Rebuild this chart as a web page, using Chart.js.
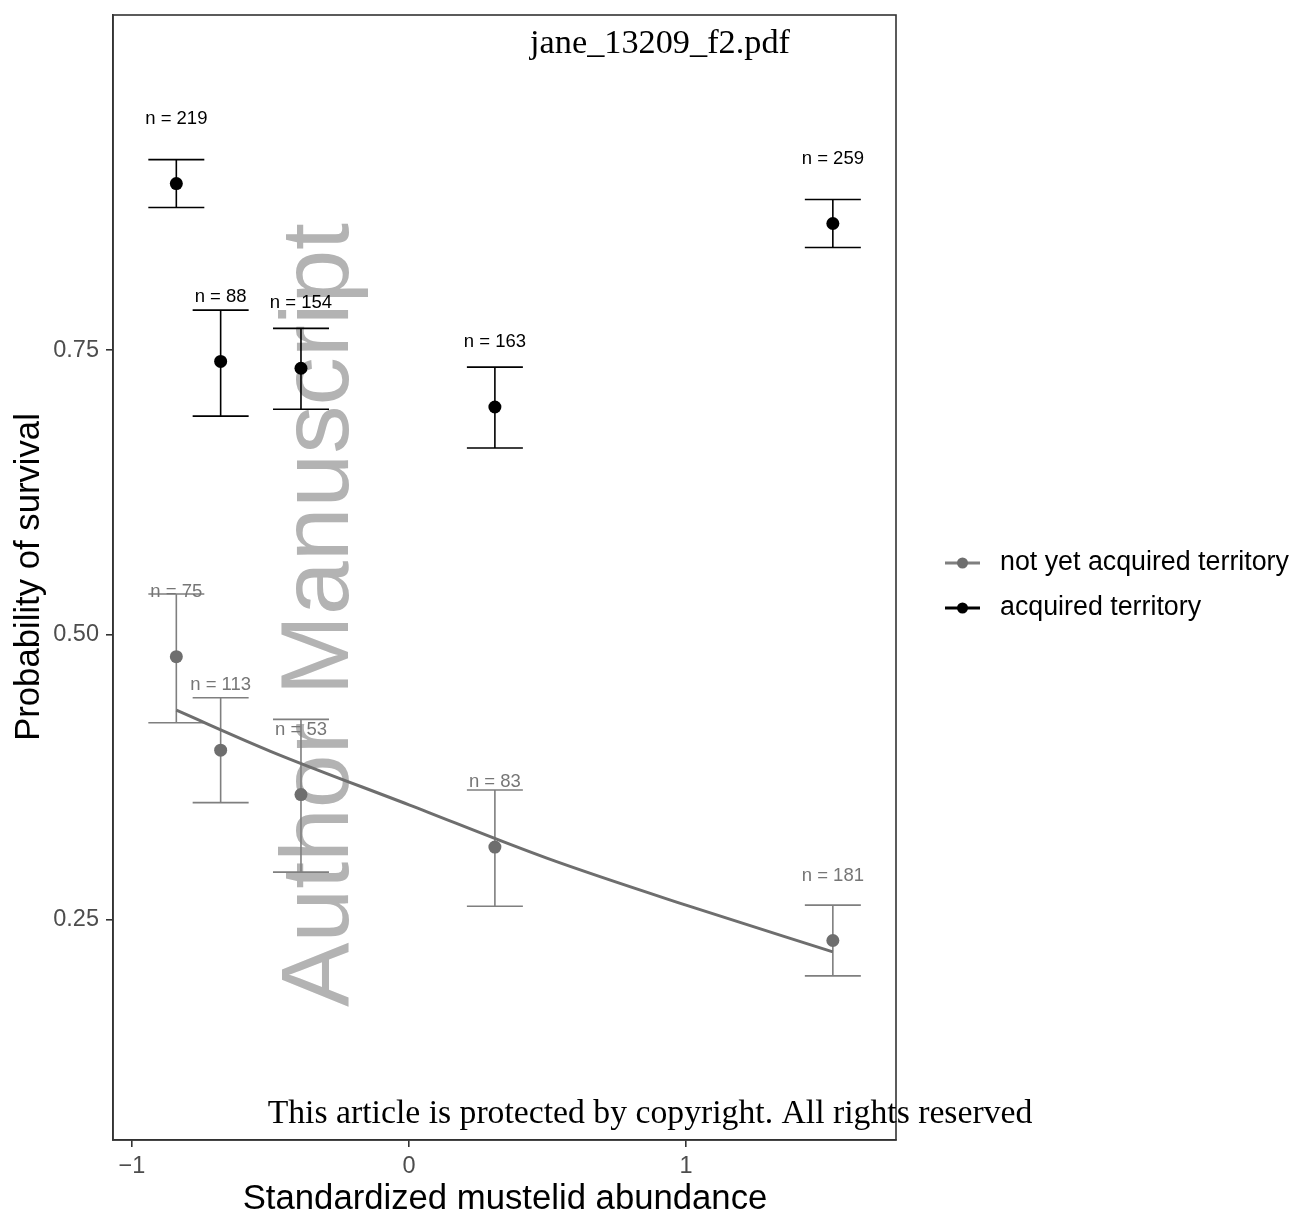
<!DOCTYPE html>
<html>
<head>
<meta charset="utf-8">
<script src="https://cdn.jsdelivr.net/npm/chart.js@4.4.1/dist/chart.umd.min.js"></script>
<style>
  html, body { margin: 0; padding: 0; background: #fff; }
  #wrap { width: 1295px; height: 1216px; }
</style>
</head>
<body>
<div id="wrap"><canvas id="survChart" width="1295" height="1216"></canvas></div>
<script>
/* ── Data ─────────────────────────────────────────── */
const abundance    = [-0.84, -0.68, -0.39, 0.31, 1.53];

const survAcquired = [0.896, 0.740, 0.734, 0.700, 0.861];
const lowAcquired  = [0.875, 0.692, 0.698, 0.664, 0.840];
const highAcquired = [0.917, 0.785, 0.769, 0.735, 0.882];
const nAcquired    = [219, 88, 154, 163, 259];

const survNotYet   = [0.481, 0.399, 0.360, 0.314, 0.232];
const lowNotYet    = [0.423, 0.353, 0.292, 0.262, 0.201];
const highNotYet   = [0.536, 0.445, 0.426, 0.364, 0.263];
const nNotYet      = [75, 113, 53, 83, 181];

// fitted curve for "not yet acquired territory"
const fitX = [-0.84, -0.5, 0, 0.5, 1.0, 1.53];
const fitY = [0.434, 0.398, 0.351, 0.304, 0.263, 0.222];

const xTicks = [-1, 0, 1];
const yTicks = [0.25, 0.50, 0.75];
const legendLabels = ['not yet acquired territory', 'acquired territory'];

/* ── Styles ───────────────────────────────────────── */
const SANS = '"Liberation Sans", Arial, sans-serif';
const SERIF = '"Liberation Serif", "DejaVu Serif", serif';
const GREY_PT = '#6e6e6e', GREY_BAR = '#7f7f7f', GREY_TXT = '#767676';
const BLACK = '#000000';
const LABEL_OFFSET = 0.057;   // n labels sit this far above each estimate
const CAP = 28;               // half width of error bar caps (px)

function fitText(ctx, text, family, targetWidth, guess) {
  ctx.font = guess + 'px ' + family;
  const w = ctx.measureText(text).width;
  return guess * targetWidth / w;
}

/* ── Plugin: watermark, error bars, labels, frame, titles, legend ── */
const decor = {
  id: 'decor',
  beforeDatasetsDraw(chart) {
    const { ctx, scales: { x, y } } = chart;
    ctx.save();
    // watermark behind the data
    ctx.translate(348, 1007);
    ctx.rotate(-Math.PI / 2);
    ctx.fillStyle = '#b3b3b3';
    ctx.textBaseline = 'alphabetic';
    ctx.textAlign = 'left';
    const wmSize = fitText(ctx, 'Author Manuscript', SANS, 784, 98);
    ctx.font = wmSize + 'px ' + SANS;
    ctx.fillText('Author Manuscript', 0, 0);
    ctx.restore();

    const groups = [
      { est: survNotYet, lo: lowNotYet, hi: highNotYet, n: nNotYet, bar: GREY_BAR, txt: GREY_TXT },
      { est: survAcquired, lo: lowAcquired, hi: highAcquired, n: nAcquired, bar: BLACK, txt: BLACK }
    ];
    ctx.save();
    groups.forEach(g => {
      ctx.strokeStyle = g.bar;
      ctx.lineWidth = 1.6;
      abundance.forEach((a, i) => {
        const px = x.getPixelForValue(a);
        const yl = y.getPixelForValue(g.lo[i]);
        const yh = y.getPixelForValue(g.hi[i]);
        ctx.beginPath();
        ctx.moveTo(px, yl); ctx.lineTo(px, yh);
        ctx.moveTo(px - CAP, yl); ctx.lineTo(px + CAP, yl);
        ctx.moveTo(px - CAP, yh); ctx.lineTo(px + CAP, yh);
        ctx.stroke();
      });
      ctx.fillStyle = g.txt;
      ctx.font = '18.5px ' + SANS;
      ctx.textAlign = 'center';
      ctx.textBaseline = 'middle';
      abundance.forEach((a, i) => {
        ctx.fillText('n = ' + g.n[i], x.getPixelForValue(a), y.getPixelForValue(g.est[i] + LABEL_OFFSET));
      });
    });
    ctx.restore();
  },
  afterDraw(chart) {
    const { ctx, chartArea: ca } = chart;
    ctx.save();
    // panel border
    ctx.strokeStyle = '#333333';
    ctx.lineWidth = 1.6;
    ctx.strokeRect(ca.left, ca.top, ca.right - ca.left, ca.bottom - ca.top);

    // overlay texts
    ctx.fillStyle = '#000';
    ctx.textAlign = 'center';
    ctx.textBaseline = 'alphabetic';
    let s = fitText(ctx, 'jane_13209_f2.pdf', SERIF, 260, 30);
    ctx.font = s + 'px ' + SERIF;
    ctx.fillText('jane_13209_f2.pdf', 660, 53);
    const note = 'This article is protected by copyright. All rights reserved';
    s = fitText(ctx, note, SERIF, 765, 30);
    ctx.font = s + 'px ' + SERIF;
    ctx.fillText(note, 650, 1123);

    // axis titles
    ctx.font = '34.7px ' + SANS;
    ctx.fillText('Standardized mustelid abundance', 505, 1209);
    ctx.save();
    ctx.translate(39, 577);
    ctx.rotate(-Math.PI / 2);
    ctx.font = '34.7px ' + SANS;
    ctx.fillText('Probability of survival', 0, 0);
    ctx.restore();

    // legend
    const rows = [
      { label: legendLabels[0], line: GREY_BAR, dot: GREY_PT, y: 563 },
      { label: legendLabels[1], line: BLACK, dot: BLACK, y: 608 }
    ];
    rows.forEach(r => {
      ctx.strokeStyle = r.line;
      ctx.lineWidth = 3;
      ctx.beginPath();
      ctx.moveTo(945, r.y); ctx.lineTo(980, r.y);
      ctx.stroke();
      ctx.fillStyle = r.dot;
      ctx.beginPath();
      ctx.arc(962.5, r.y, 5.5, 0, Math.PI * 2);
      ctx.fill();
      ctx.fillStyle = '#000';
      ctx.font = '26.8px ' + SANS;
      ctx.textAlign = 'left';
      ctx.textBaseline = 'middle';
      ctx.fillText(r.label, 1000, r.y);
    });
    ctx.restore();
  }
};

/* ── Chart ────────────────────────────────────────── */
const ctx = document.getElementById('survChart').getContext('2d');
new Chart(ctx, {
  type: 'scatter',
  data: {
    datasets: [
      {
        label: 'acquired territory',
        data: abundance.map((a, i) => ({ x: a, y: survAcquired[i] })),
        backgroundColor: BLACK,
        borderWidth: 0,
        pointRadius: 6.5,
        order: 1
      },
      {
        label: 'not yet acquired territory',
        data: abundance.map((a, i) => ({ x: a, y: survNotYet[i] })),
        backgroundColor: GREY_PT,
        borderWidth: 0,
        pointRadius: 6.5,
        order: 2
      },
      {
        label: 'fit',
        data: fitX.map((v, i) => ({ x: v, y: fitY[i] })),
        showLine: true,
        borderColor: '#6e6e6e',
        borderWidth: 3,
        pointRadius: 0,
        cubicInterpolationMode: 'monotone',
        order: 3
      }
    ]
  },
  options: {
    responsive: false,
    animation: false,
    devicePixelRatio: 1,
    layout: { padding: { top: 15, right: 399, left: 0, bottom: 0 } },
    plugins: { legend: { display: false }, tooltip: { enabled: false } },
    scales: {
      x: {
        type: 'linear',
        min: -1.0686, max: 1.758,
        afterFit: s => { s.height = 76; s.paddingLeft = 0; s.paddingRight = 0; },
        afterBuildTicks: s => { s.ticks = xTicks.map(v => ({ value: v })); },
        ticks: {
          callback: v => v < 0 ? '\u2212' + Math.abs(v) : String(v),
          color: '#4d4d4d',
          font: { family: SANS, size: 23.5 },
          padding: 5,
          maxRotation: 0
        },
        grid: { drawOnChartArea: false, drawTicks: true, tickLength: 7, color: '#333333', lineWidth: 1.6 },
        border: { display: true, color: '#333333', width: 1.6 }
      },
      y: {
        type: 'linear',
        min: 0.057, max: 1.0439,
        afterFit: s => { s.width = 113; s.paddingTop = 0; s.paddingBottom = 0; },
        afterBuildTicks: s => { s.ticks = yTicks.map(v => ({ value: v })); },
        ticks: {
          callback: v => v.toFixed(2),
          color: '#4d4d4d',
          font: { family: SANS, size: 23.5 },
          padding: 7
        },
        grid: { drawOnChartArea: false, drawTicks: true, tickLength: 7, color: '#333333', lineWidth: 1.6 },
        border: { display: true, color: '#333333', width: 1.6 }
      }
    }
  },
  plugins: [decor]
});
</script>
</body>
</html>
